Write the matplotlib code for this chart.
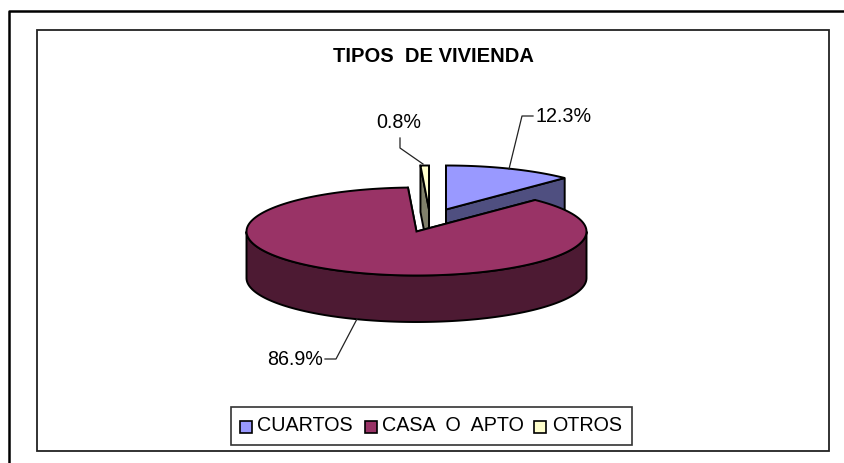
import numpy as np
import matplotlib
matplotlib.use('Agg')
import matplotlib.pyplot as plt
from matplotlib.patches import Rectangle

plt.rcParams['font.family'] = ['Liberation Sans', 'DejaVu Sans']

categories = ['CUARTOS', 'CASA O APTO', 'OTROS']
values = [12.3, 86.9, 0.8]
labels = ['12.3%', '86.9%', '0.8%']
top_colors = ['#9999ff', '#993366', '#ffffcc']
side_colors = ['#4f4f80', '#4d1a33', '#80806a']

# pie geometry, in pixels of the picture
CX, CY = 416.5, 232.5
RX, RY = 170, 44
DEPTH = 46.5
offsets = [(29.5, -22), (0, 0), (12.5, -22)]


def rim(a0, a1, dx=0, dy=0, n=200):
    t = np.radians(np.linspace(a0, a1, n))
    return CX + dx + RX * np.sin(t), CY + dy - RY * np.cos(t)


def draw_wedge(ax, a0, a1, off, top, side, z):
    dx, dy = off
    ax_, ay_ = CX + dx, CY + dy
    # cut faces seen from the front
    for ang in (a0, a1):
        ex, ey = rim(ang, ang, dx, dy, 1)
        ax.fill([ax_, ex[0], ex[0], ax_], [ay_, ey[0], ey[0] + DEPTH, ay_ + DEPTH],
                fc=side, ec='black', lw=1.4, zorder=z, joinstyle='round')
    # outer wall, only the front half of the ellipse
    w0, w1 = max(a0, 90), min(a1, 270)
    if w1 > w0:
        x, y = rim(w0, w1, dx, dy)
        ax.fill(np.r_[x, x[::-1]], np.r_[y, y[::-1] + DEPTH],
                fc=side, ec='black', lw=1.4, zorder=z + 0.1)
    x, y = rim(a0, a1, dx, dy)
    ax.fill(np.r_[ax_, x], np.r_[ay_, y], fc=top, ec='black', lw=1.4, zorder=z + 0.2)


fig = plt.figure(figsize=(8.45, 4.64), dpi=100)
ax = fig.add_axes([0, 0, 1, 1])
ax.set_xlim(0, 845)
ax.set_ylim(464, 0)
ax.axis('off')

# outer frame and chart area
ax.plot([9, 9, 845], [464, 12, 12], color='black', lw=1.8, zorder=1)
ax.add_patch(Rectangle((37, 31), 792, 421, fc='white', ec='#222222', lw=1.3, zorder=1))

ax.text(433.5, 57, 'TIPOS  DE VIVIENDA', fontsize=14.5, fontweight='bold', ha='center', va='center', zorder=6)

# slices start at 12 o'clock and run clockwise
angles = np.r_[0, np.cumsum(values)] / sum(values) * 360
order = [2, 0, 1]
for i in order:
    draw_wedge(ax, angles[i], angles[i + 1], offsets[i], top_colors[i], side_colors[i], 2 + order.index(i))

# leader lines and data labels
ax.plot([509, 522, 533], [170, 117, 117], color='#222222', lw=0.9, zorder=6)
ax.text(536, 116, labels[0], fontsize=14.2, ha='left', va='center', zorder=6)
ax.plot([357, 336, 325], [320, 360, 360], color='#222222', lw=0.9, zorder=6)
ax.text(323, 360, labels[1], fontsize=14.2, ha='right', va='center', zorder=6)
ax.plot([423, 400, 400], [165, 149, 139], color='#222222', lw=0.9, zorder=6)
ax.text(399, 122, labels[2], fontsize=14.2, ha='center', va='center', zorder=6)

# legend drawn by hand to keep the tight box of the original
ax.add_patch(Rectangle((231, 407.5), 401, 38.5, fc='white', ec='#333333', lw=1.2, zorder=6))
swatch_x = [240, 365, 534]
text_x = [257, 382, 552]
for x, tx, name, col in zip(swatch_x, text_x, categories, top_colors):
    ax.add_patch(Rectangle((x, 422), 12, 11.5, fc=col, ec='black', lw=1.2, zorder=7))
    # the original sets its spaces wider
    ax.text(tx, 425.5, name.replace(' ', '  '), fontsize=14.2, ha='left', va='center', zorder=7)

fig.savefig('out.png', dpi=100)
